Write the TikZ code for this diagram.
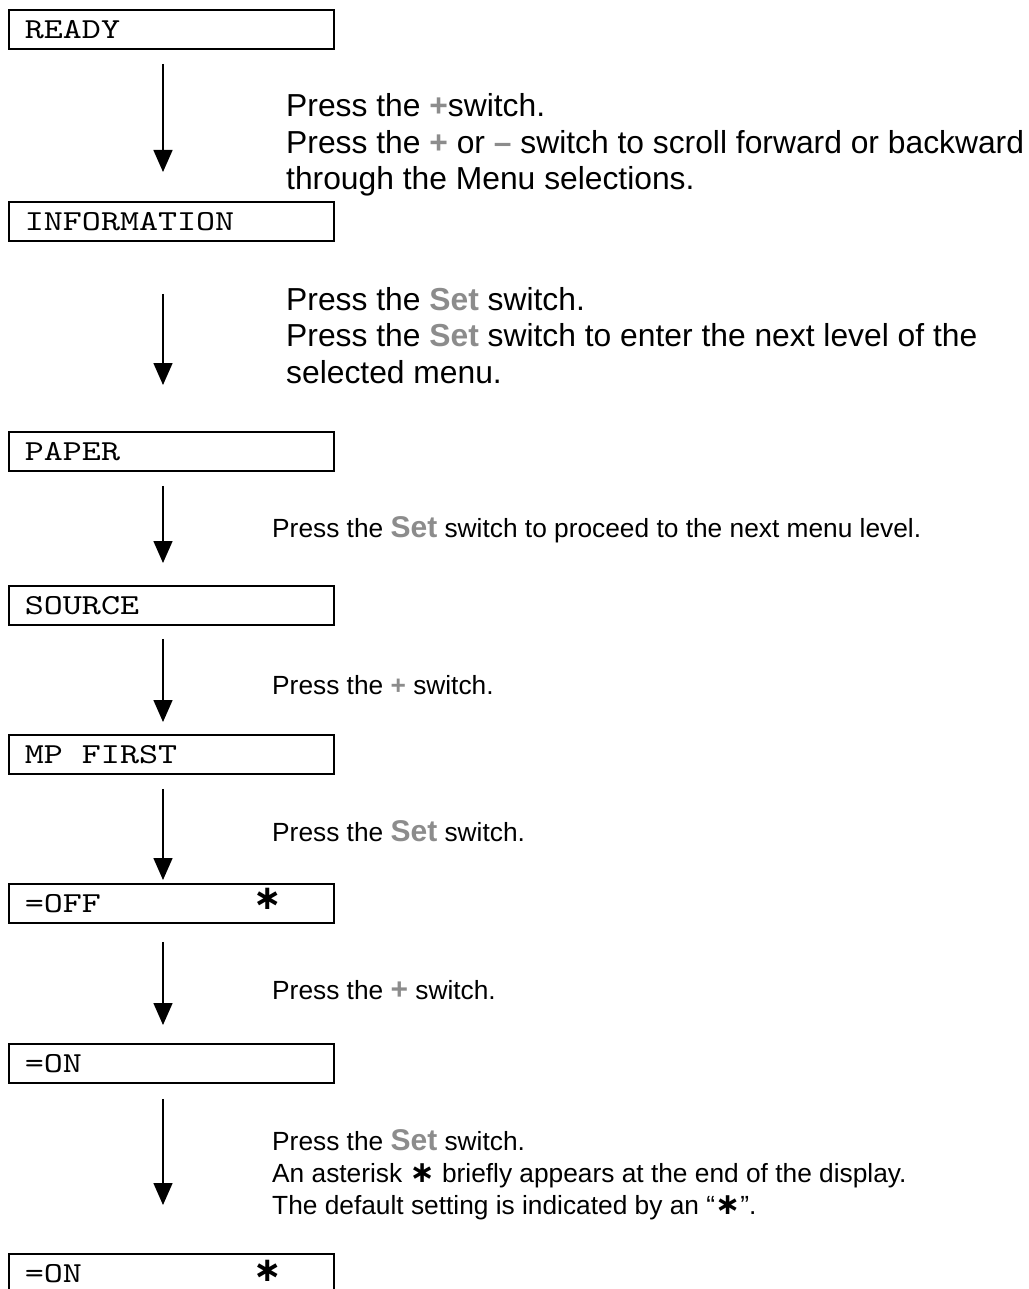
\documentclass[tikz,border=0pt]{standalone}
\usepackage{fontspec}
\setmainfont{Liberation Sans}
\newfontfamily\astfont{DejaVu Sans}
\newfontfamily\lcdfont[FakeStretch=1.25]{lmmono10-regular.otf}
\usepackage{xcolor}
\definecolor{keygray}{HTML}{8C8C8C}
\usepackage{tikz}
\usetikzlibrary{positioning, calc, arrows.meta}

\newcommand{\keyset}{\textcolor{keygray}{\bfseries Set}}
\newcommand{\bigset}{{\fontsize{30}{30}\selectfont\textcolor{keygray}{\bfseries Set}}}
\newcommand{\keyplus}{\textcolor{keygray}{\bfseries +}}
\newcommand{\bigplus}{{\fontsize{30}{30}\selectfont\textcolor{keygray}{\bfseries +}}}
\newcommand{\keyminus}{\textcolor{keygray}{\bfseries –}}
\newcommand{\astmark}{{\astfont\bfseries ∗}}
\newcommand{\bigast}{{\fontsize{30}{30}\selectfont\astfont\bfseries ∗}}
\newcommand{\lcdspace}{\hspace{0.656em}}

\tikzset{
  lcd/.style={draw, line width=1.8pt, anchor=north west, minimum width=325pt,
    minimum height=39pt, text width=293pt, inner xsep=16pt, inner ysep=2pt,
    text height=18pt, text depth=0pt, align=left,
    font=\lcdfont\fontsize{29}{29}\selectfont},
  starmark/.style={inner sep=0pt, font=\fontsize{34}{34}\selectfont},
  bigtext/.style={anchor=base west, align=left, inner sep=0pt,
    font=\fontsize{31.8}{36.5}\selectfont},
  smalltext/.style={anchor=base west, align=left, inner sep=0pt,
    font=\fontsize{26.3}{32}\selectfont},
  flow/.style={line width=1.5pt, -{Triangle[width=19pt,length=22pt]}}
}

\begin{document}
\begin{tikzpicture}[x=1pt, y=-1pt]
  \useasboundingbox (0,0) rectangle (1028,1289);

  % display boxes
  \node[lcd] (ready)  at (8,9)    {READY};
  \node[lcd] (info)   at (8,201)  {INFORMATION};
  \node[lcd] (paper)  at (8,431)  {PAPER};
  \node[lcd] (source) at (8,585)  {SOURCE};
  \node[lcd] (mp)     at (8,734)  {MP\lcdspace FIRST};
  \node[lcd] (off)    at (8,883)  {=OFF};
  \node[lcd] (on)     at (8,1043) {=ON};
  \node[lcd] (onstar) at (8,1253) {=ON};
  \node[starmark] (offast) at ([xshift=-67pt, yshift=5pt]off.east) {\astmark};
  \node[starmark] (onast) at ([xshift=-67pt, yshift=3pt]onstar.east) {\astmark};

  % arrows
  \coordinate (ax) at (163,0);
  \foreach \a/\b/\s/\e in {ready/info/14/29, info/paper/52/46, paper/source/14/22,
      source/mp/13/12, mp/off/14/3, off/on/18/18, on/onstar/15/48}
    \draw[flow, shorten <=\s pt, shorten >=\e pt] (\a.south -| ax) -- (\b.north -| ax);

  % instructions
  \node[bigtext] (txtmenu) at (286,190)
    {Press the \keyplus switch.\\
     Press the \keyplus{} or \keyminus{} switch to scroll forward or backward\\
     through the Menu selections.};
  \node[bigtext] (txtenter) at (286,383)
    {Press the \keyset{} switch.\\
     Press the \keyset{} switch to enter the next level of the\\
     selected menu.};
  \node[smalltext] (txtproceed) at (272,537)
    {Press the \bigset{} switch to proceed to the next menu level.};
  \node[smalltext] (txtplusa) at (272,694) {Press the \keyplus{} switch.};
  \node[smalltext] (txtseta) at (272,841) {Press the \bigset{} switch.};
  \node[smalltext] (txtplusb) at (272,999) {Press the \bigplus{} switch.};
  \node[smalltext] (txtsetb) at (272,1214)
    {Press the \bigset{} switch.\\
     An asterisk \bigast{} briefly appears at the end of the display.\\
     The default setting is indicated by an “\bigast”.};
\end{tikzpicture}
\end{document}
